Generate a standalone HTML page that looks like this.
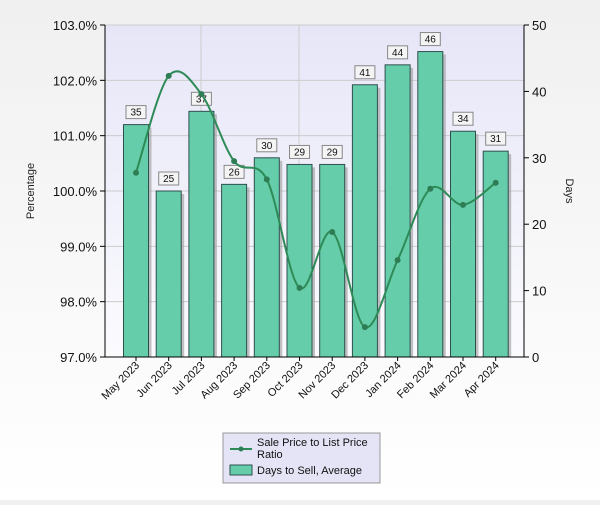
<!DOCTYPE html>
<html><head><meta charset="utf-8"><style>
body{margin:0;width:600px;height:500px;background:linear-gradient(#f0f0f0,#fff);font-family:"Liberation Sans",sans-serif;overflow:hidden}
</style></head><body>
<svg width="600" height="500" id="c" font-family="Liberation Sans, sans-serif">
<defs><linearGradient id="pg" x1="0" y1="0" x2="0" y2="1"><stop offset="0" stop-color="#e6e6f8"/><stop offset="1" stop-color="#fbfbfe"/></linearGradient></defs>
<rect x="105" y="25" width="419" height="332" fill="url(#pg)"/>
<g id="grid"></g><g id="bars"></g><g id="line"></g><g id="axes"></g>
<text transform="translate(34,191) rotate(-90)" text-anchor="middle" font-size="11" fill="#222">Percentage</text>
<text transform="translate(566,191) rotate(90)" text-anchor="middle" font-size="11" fill="#222">Days</text>
<g>
<rect x="223" y="433" width="157" height="50" fill="#e4e4f6" stroke="#999"/>
<line x1="230" y1="449" x2="252" y2="449" stroke="#2e8b57" stroke-width="2"/><circle cx="241" cy="449" r="2.5" fill="#2e7d55"/>
<text x="257" y="446" font-size="11" fill="#111">Sale Price to List Price</text>
<text x="257" y="458" font-size="11" fill="#111">Ratio</text>
<rect x="230" y="465" width="22" height="10" fill="#66cdaa" stroke="#2f4f4f"/>
<text x="257" y="474" font-size="11" fill="#111">Days to Sell, Average</text>
</g>
</svg>
<script>
const months=["May 2023","Jun 2023","Jul 2023","Aug 2023","Sep 2023","Oct 2023","Nov 2023","Dec 2023","Jan 2024","Feb 2024","Mar 2024","Apr 2024"];
const days=[35,25,37,26,30,29,29,41,44,46,34,31];
const ratio=[100.33,102.08,101.75,100.54,100.21,98.25,99.26,97.54,98.75,100.04,99.75,100.15];
const pctTicks=[97,98,99,100,101,102,103];
const dayTicks=[0,10,20,30,40,50];
const L=105,R=524,T=25,B=357,NS="http://www.w3.org/2000/svg";
const yP=v=>B-(v-97)/6*(B-T);
const yD=v=>B-v/50*(B-T);
const xC=i=>136+i*32.7;
function mk(p,tag,at,name,txt){const e=document.createElementNS(NS,tag);for(const k in at)e.setAttribute(k,at[k]);


if(txt!=null)e.textContent=txt;document.getElementById(p).appendChild(e);return e;}
[201,299].forEach(x=>mk('grid','line',{x1:x,x2:x,y1:T,y2:B,stroke:'#ccc'},'grid-line-v'));
pctTicks.forEach(t=>{const y=yP(t);mk('grid','line',{x1:L,x2:R,y1:y,y2:y,stroke:'#ccc'},'grid-line-h');
mk('axes','line',{x1:L-5,x2:L,y1:y,y2:y,stroke:'#000'},'y-tick');
mk('axes','text',{x:L-8,y:y+5,'text-anchor':'end','font-size':13,fill:'#111'},'y-tick-label',t.toFixed(1)+'%');});
dayTicks.forEach(t=>{const y=yD(t);mk('axes','line',{x1:R,x2:R+5,y1:y,y2:y,stroke:'#000'},'y2-tick');
mk('axes','text',{x:R+8,y:y+5,'font-size':13,fill:'#111'},'y2-tick-label',t);});
mk('axes','line',{x1:L,x2:L,y1:T,y2:B,stroke:'#000'},'y-axis');
mk('axes','line',{x1:R,x2:R,y1:T,y2:B,stroke:'#000'},'y2-axis');
mk('axes','line',{x1:L,x2:R,y1:B,y2:B,stroke:'#000'},'x-axis');
months.forEach((m,i)=>{const x=xC(i),y=yD(days[i]),w=25;
mk('bars','rect',{x:x-w/2+3,y:y+3,width:w,height:B-y-3,fill:'#999',opacity:.6},'bar-shadow');
mk('bars','rect',{x:x-w/2,y:y,width:w,height:B-y,fill:'#66cdaa',stroke:'#2f4f4f'},'bar-'+m.toLowerCase().replace(' ','-'));
mk('bars','rect',{x:x-10,y:y-19,width:20,height:13,fill:'#f4f4f4',stroke:'#888'},'value-label-box');
mk('bars','text',{x:x,y:y-9,'text-anchor':'middle','font-size':10,fill:'#111'},'value-label',days[i]);
mk('axes','line',{x1:x,x2:x,y1:B,y2:B+4,stroke:'#000'},'x-tick');
mk('axes','text',{transform:`translate(${x+4},${B+9}) rotate(-45)`,'text-anchor':'end','font-size':11,fill:'#111'},'x-tick-label',m);});
const pts=ratio.map((v,i)=>[xC(i),yP(v)]);
let d=`M${pts[0][0]},${pts[0][1]}`;
for(let i=0;i<pts.length-1;i++){const p0=pts[i-1]||pts[i],p1=pts[i],p2=pts[i+1],p3=pts[i+2]||p2;
d+=` C${p1[0]+(p2[0]-p0[0])/6},${p1[1]+(p2[1]-p0[1])/6} ${p2[0]-(p3[0]-p1[0])/6},${p2[1]-(p3[1]-p1[1])/6} ${p2[0]},${p2[1]}`;}
mk('line','path',{d:d,fill:'none',stroke:'#2e8b57','stroke-width':2},'ratio-line');
pts.forEach(p=>mk('line','circle',{cx:p[0],cy:p[1],r:3,fill:'#2e7d55'},'ratio-point'));
</script>
</body></html>
